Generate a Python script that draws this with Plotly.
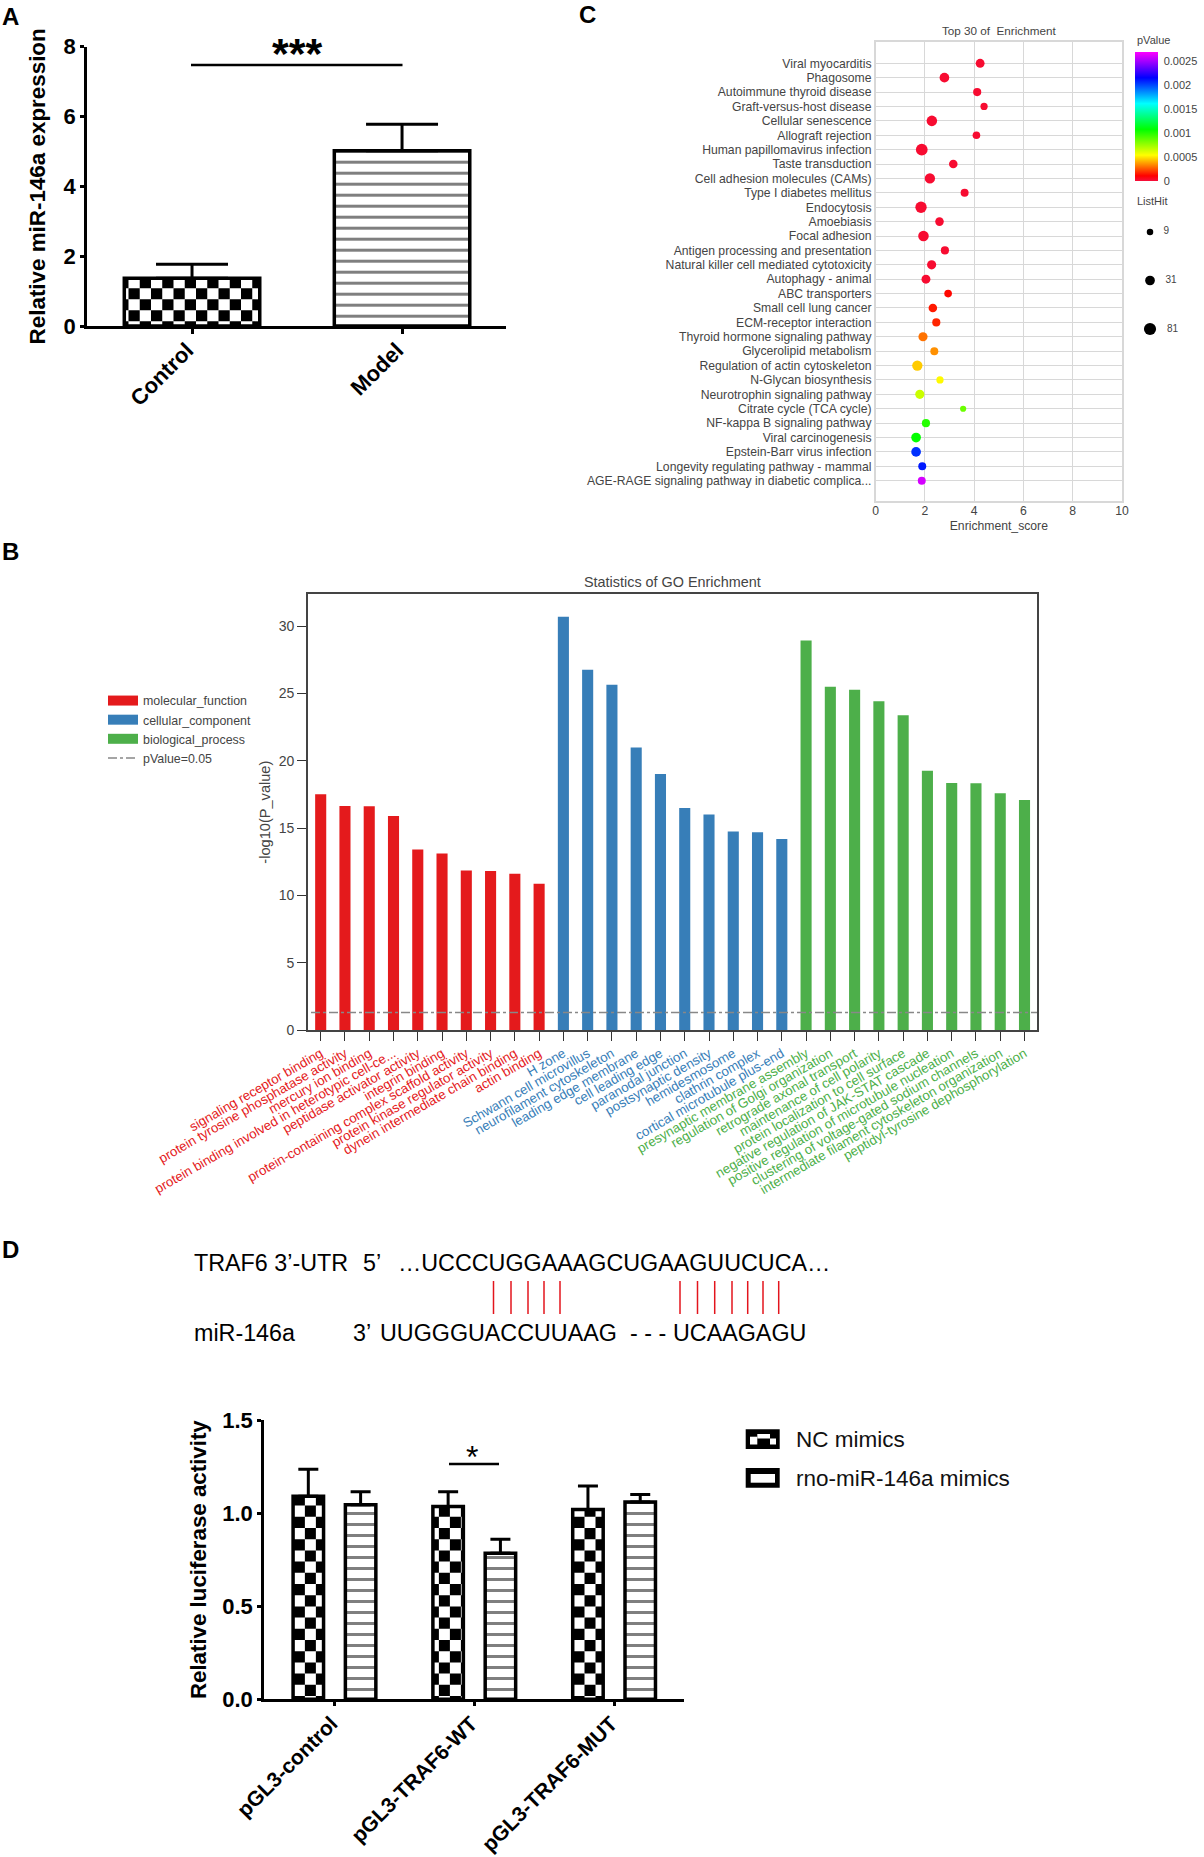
import numpy as np
import plotly.graph_objects as go

W, H = 1204, 1857
FONT = 'Liberation Sans'

# panel A
a_groups = ['Control', 'Model']
a_values = [1.37, 5.02]
a_err = [0.40, 0.76]

# panel B
b_mf_labels = ['signaling receptor binding', 'protein tyrosine phosphatase activity', 'mercury ion binding',
               'protein binding involved in heterotypic cell-ce...', 'peptidase activator activity', 'integrin binding',
               'protein-containing complex scaffold activity', 'protein kinase regulator activity',
               'dynein intermediate chain binding', 'actin binding']
b_mf_values = [17.51, 16.64, 16.62, 15.9, 13.4, 13.1, 11.84, 11.8, 11.6, 10.86]
b_cc_labels = ['H zone', 'Schwann cell microvillus', 'neurofilament cytoskeleton', 'leading edge membrane',
               'cell leading edge', 'paranodal junction', 'postsynaptic density', 'hemidesmosome',
               'clathrin complex', 'cortical microtubule plus-end']
b_cc_values = [30.69, 26.76, 25.64, 20.99, 19.02, 16.49, 16.0, 14.74, 14.69, 14.19]
b_bp_labels = ['presynaptic membrane assembly', 'regulation of Golgi organization', 'retrograde axonal transport',
               'maintenance of cell polarity', 'protein localization to cell surface',
               'negative regulation of JAK-STAT cascade', 'positive regulation of microtubule nucleation',
               'clustering of voltage-gated sodium channels', 'intermediate filament cytoskeleton organization',
               'peptidyl-tyrosine dephosphorylation']
b_bp_values = [28.93, 25.49, 25.27, 24.41, 23.37, 19.26, 18.35, 18.32, 17.58, 17.09]
b_threshold = 1.3

# panel C
c_terms = ['Viral myocarditis', 'Phagosome', 'Autoimmune thyroid disease', 'Graft-versus-host disease',
           'Cellular senescence', 'Allograft rejection', 'Human papillomavirus infection', 'Taste transduction',
           'Cell adhesion molecules (CAMs)', 'Type I diabetes mellitus', 'Endocytosis', 'Amoebiasis', 'Focal adhesion',
           'Antigen processing and presentation', 'Natural killer cell mediated cytotoxicity', 'Autophagy - animal',
           'ABC transporters', 'Small cell lung cancer', 'ECM-receptor interaction', 'Thyroid hormone signaling pathway',
           'Glycerolipid metabolism', 'Regulation of actin cytoskeleton', 'N-Glycan biosynthesis',
           'Neurotrophin signaling pathway', 'Citrate cycle (TCA cycle)', 'NF-kappa B signaling pathway',
           'Viral carcinogenesis', 'Epstein-Barr virus infection', 'Longevity regulating pathway - mammal',
           'AGE-RAGE signaling pathway in diabetic complica...']
c_score = [4.24, 2.79, 4.12, 4.40, 2.28, 4.09, 1.87, 3.15, 2.20, 3.61, 1.84, 2.59, 1.94, 2.81, 2.27,
           2.04, 2.94, 2.32, 2.46, 1.92, 2.38, 1.69, 2.61, 1.79, 3.55, 2.04, 1.64, 1.64, 1.89, 1.87]
c_listhit = [23, 31, 17, 12, 43, 14, 69, 20, 40, 16, 59, 20, 43, 17, 25,
             23, 14, 20, 17, 25, 16, 40, 12, 25, 8, 17, 31, 31, 16, 16]
c_pvalue = [0.00002] * 16 + [0.00012, 0.00015, 0.00017, 0.0003, 0.00035, 0.00045, 0.00053, 0.00065, 0.00085,
                             0.001, 0.00107, 0.00205, 0.0021, 0.0026]
c_p_ticks = [0, 0.0005, 0.001, 0.0015, 0.002, 0.0025]
c_p_labels = ['0', '0.0005', '0.001', '0.0015', '0.002', '0.0025']
c_hit_legend = [9, 31, 81]

# panel D
d_groups = ['pGL3-control', 'pGL3-TRAF6-WT', 'pGL3-TRAF6-MUT']
d_nc = [1.09, 1.035, 1.02]
d_nc_err = [0.145, 0.08, 0.125]
d_mimic = [1.045, 0.785, 1.06]
d_mimic_err = [0.07, 0.075, 0.04]
d_series = ['NC mimics', 'rno-miR-146a mimics']


def xdom(a, b):
    return [a / W, b / W]


def ydom(top, bottom):
    return [1 - bottom / H, 1 - top / H]


def hit_size(h):
    return 6.5 + 2.58 * np.log(np.array(h) / 9)


annotations = []
shapes = []


def txt(x, y, s, size, color='black', anchor='left', bold=False, rot=0):
    if bold:
        s = '<b>' + s + '</b>'
    annotations.append(dict(xref='paper', yref='paper', x=x / W, y=1 - y / H, text=s, showarrow=False,
                            xanchor=anchor, yanchor='middle', textangle=rot,
                            font=dict(family=FONT, size=size, color=color)))


def pline(x0, y0, x1, y1, color='black', width=2):
    shapes.append(dict(type='line', xref='paper', yref='paper', x0=x0 / W, x1=x1 / W, y0=1 - y0 / H, y1=1 - y1 / H,
                       line=dict(color=color, width=width)))


def prect(x0, y0, x1, y1, color):
    shapes.append(dict(type='rect', xref='paper', yref='paper', x0=x0 / W, x1=x1 / W, y0=1 - y0 / H, y1=1 - y1 / H,
                       fillcolor=color, line=dict(width=0)))


def checker(xref, yref, left, right, top, cw, ch, x_start, y_start, parity=0):
    # black squares of the checked fill, clipped to the bar
    nx = int((right - x_start) / cw) + 1
    ny = int((top - y_start) / ch) + 2
    for i in range(-1, nx):
        for j in range(-1, ny):
            if (i + j + parity) % 2:
                continue
            x0, x1 = max(left, x_start + i * cw), min(right, x_start + (i + 1) * cw)
            y0, y1 = max(0, y_start + j * ch), min(top, y_start + (j + 1) * ch)
            if x1 <= x0 or y1 <= y0:
                continue
            shapes.append(dict(type='rect', xref=xref, yref=yref, x0=x0, x1=x1, y0=y0, y1=y1,
                               fillcolor='black', line=dict(width=0), layer='below'))


STRIPES = dict(shape='-', size=11, solidity=0.2727, fgcolor='black', bgcolor='white')
fig = go.Figure()

# --- A ---
a_x = list(range(len(a_groups)))
a_width = 0.645
fig.add_trace(go.Bar(x=[a_x[0]], y=[a_values[0]], width=a_width, xaxis='x', yaxis='y', showlegend=False,
                     marker=dict(color='rgba(0,0,0,0)', line=dict(color='black', width=3.5)),
                     error_y=dict(type='data', symmetric=False, array=[a_err[0]], arrayminus=[0],
                                  color='black', thickness=3, width=36)))
fig.add_trace(go.Bar(x=[a_x[1]], y=[a_values[1]], width=a_width, xaxis='x', yaxis='y', showlegend=False,
                     marker=dict(color='white', pattern=STRIPES, line=dict(color='black', width=3.5)),
                     error_y=dict(type='data', symmetric=False, array=[a_err[1]], arrayminus=[0],
                                  color='black', thickness=3, width=36)))
checker('x', 'y', a_x[0] - a_width / 2, a_x[0] + a_width / 2, a_values[0], 11.25 / 210, 11 / 34.9,
        a_x[0] - a_width / 2 + 4.2 / 210, 4.7 / 34.9, parity=0)

# --- C ---
fig.add_trace(go.Scatter(x=c_score, y=c_terms, mode='markers', xaxis='x2', yaxis='y2', showlegend=False,
                         marker=dict(size=hit_size(c_listhit), color=c_pvalue, cmin=0, cmax=0.00269, showscale=True,
                                     opacity=1, line=dict(width=0),
                                     colorscale=[[0, 'rgb(245,15,60)'], [0.04, 'rgb(255,0,0)'], [0.2, 'rgb(255,255,0)'],
                                                 [0.4, 'rgb(0,255,0)'], [0.6, 'rgb(0,255,255)'], [0.8, 'rgb(0,0,255)'],
                                                 [1, 'rgb(255,0,255)']],
                                     colorbar=dict(x=1135 / W, xanchor='left', y=1 - 51.7 / H, yanchor='top',
                                                   lenmode='pixels', len=128.6, thicknessmode='pixels', thickness=23,
                                                   xpad=0, ypad=0, outlinewidth=0, ticks='outside', ticklen=4,
                                                   tickcolor='rgba(0,0,0,0)', tickvals=c_p_ticks, ticktext=c_p_labels,
                                                   tickfont=dict(family=FONT, size=11, color='#444444')))))
fig.add_trace(go.Scatter(x=[0] * len(c_hit_legend), y=[str(h) for h in c_hit_legend], mode='markers+text',
                         text=['   ' + str(h) for h in c_hit_legend], textposition='middle right',
                         textfont=dict(family=FONT, size=10, color='#444444'),
                         xaxis='x5', yaxis='y5', showlegend=False,
                         marker=dict(size=hit_size(c_hit_legend), color='black', opacity=1, line=dict(width=0))))

# --- B ---
b_labels = b_mf_labels + b_cc_labels + b_bp_labels
b_pos = list(range(len(b_labels)))
RED, BLUE, GREEN = '#e41a1c', '#377eb8', '#4daf4a'
b_names = ['molecular_function', 'cellular_component', 'biological_process']
start = 0
b_ticks = []
for name, vals, labs, col in zip(b_names, [b_mf_values, b_cc_values, b_bp_values],
                                 [b_mf_labels, b_cc_labels, b_bp_labels], [RED, BLUE, GREEN]):
    fig.add_trace(go.Bar(x=b_pos[start:start + len(vals)], y=vals, width=0.457, showlegend=False, xaxis='x3', yaxis='y3',
                         marker=dict(color=col, line=dict(width=0))))
    # legend-only line, the bar swatch of the legend is too small
    fig.add_trace(go.Scatter(x=[None], y=[None], mode='lines', name=name, xaxis='x3', yaxis='y3',
                             line=dict(color=col, width=10)))
    b_ticks += [f'<span style="color:{col}">{l}</span>' for l in labs]
    start += len(vals)
fig.add_trace(go.Scatter(x=[-0.4, b_pos[-1] + 0.515], y=[b_threshold, b_threshold], mode='lines', name='pValue=0.05',
                         xaxis='x3', yaxis='y3', line=dict(color='#888888', width=1.5, dash='dashdot')))

# --- D ---
d_x = list(range(len(d_groups)))
d_width = 0.218
d_off = 0.187
fig.add_trace(go.Bar(x=d_x, y=d_nc, width=d_width, offset=-d_off - d_width / 2, xaxis='x4', yaxis='y4', showlegend=False,
                     marker=dict(color='rgba(0,0,0,0)', line=dict(color='black', width=3.5)),
                     error_y=dict(type='data', symmetric=False, array=d_nc_err, arrayminus=[0] * 3,
                                  color='black', thickness=3, width=10)))
fig.add_trace(go.Bar(x=d_x, y=d_mimic, width=d_width, offset=d_off - d_width / 2, xaxis='x4', yaxis='y4', showlegend=False,
                     marker=dict(color='white', pattern=STRIPES, line=dict(color='black', width=3.5)),
                     error_y=dict(type='data', symmetric=False, array=d_mimic_err, arrayminus=[0] * 3,
                                  color='black', thickness=3, width=10)))
for gx, val, shift in zip(d_x, d_nc, [0.8, -5, 0.8]):
    left = gx - d_off - d_width / 2
    checker('x4', 'y4', left, left + d_width, val, 11 / 139.8, 11.2 / 186.2, left + shift / 139.8, 3.3 / 186.2, parity=1)

# significance marks
pline(191, 65, 402.5, 65, width=2.5)
txt(297, 53, '***', 43, anchor='center', bold=True)
pline(449, 1464, 499, 1464, width=2.5)
txt(472, 1457, '*', 32, anchor='center')

# sequence schematic
for px_ in [493.5, 511, 528, 544, 560, 680, 697.5, 714.7, 732, 747.7, 763, 778.7]:
    pline(px_, 1281, px_, 1314, color='#e3141c', width=1.5)
SEQ = 23.3
txt(191.5, 1263, 'TRAF6 3’-UTR', SEQ)
txt(360.5, 1263, '5’', SEQ)
txt(396, 1263, '…UCCCUGGAAAGCUGAAGUUCUCA…', SEQ)
txt(191.5, 1333, 'miR-146a', SEQ)
txt(350.5, 1333, '3’', SEQ)
txt(378, 1333, 'UUGGGUACCUUAAG', SEQ)
txt(628, 1333, '- - -', SEQ)
txt(670.7, 1333, 'UCAAGAGU', SEQ)

# D legend
prect(745.7, 1429.3, 779.7, 1449, 'black')
prect(750, 1436.7, 757.3, 1444.5, 'white')
prect(757.3, 1434, 770, 1438.5, 'white')
prect(770, 1438.5, 776, 1444.5, 'white')
prect(745.7, 1468, 779.7, 1487.7, 'black')
prect(750.7, 1474, 775, 1482.7, 'white')
txt(794, 1439, d_series[0], 22.5, color='#111111')
txt(794, 1478, d_series[1], 22.5, color='#111111')

# panel letters and text of C
txt(0, 17, 'A', 24, bold=True)
txt(577, 15, 'C', 24, bold=True)
txt(0, 551, 'B', 24, bold=True)
txt(0, 1249, 'D', 24, bold=True)
txt(998.6, 31, 'Top 30 of  Enrichment', 11.7, color='#444444', anchor='center')
txt(1135, 40, 'pValue', 11, color='#444444')
txt(1135, 201, 'ListHit', 11, color='#444444')
txt(672, 581.7, 'Statistics of GO Enrichment', 14.4, color='#444444', anchor='center')

bold_tick = dict(family=FONT, size=22, color='black')
d_tick = dict(family=FONT, size=22, color='black')
gray_tick = dict(family=FONT, size=12.2, color='#444444')
fig.update_layout(
    width=W, height=H, autosize=False, margin=dict(l=0, r=0, t=0, b=0, autoexpand=False), plot_bgcolor='white',
    paper_bgcolor='white', barmode='overlay', font=dict(family=FONT), annotations=annotations, shapes=shapes,
    xaxis=dict(domain=xdom(86.8, 506), range=[-0.501, 1.495], tickvals=a_x, ticktext=[f'<b>{g}</b>' for g in a_groups],
               tickangle=-45, tickfont=bold_tick, ticks='outside', ticklen=5, tickwidth=2.5, tickcolor='black',
               ticklabelstandoff=-5, ticklabelshift=-5,
               showline=True, linecolor='black', linewidth=2.5, showgrid=False, zeroline=False),
    yaxis=dict(domain=ydom(46.7, 326), range=[0, 8], tickvals=[0, 2, 4, 6, 8], ticktext=[f'<b>{v}</b>' for v in [0, 2, 4, 6, 8]],
               tickfont=bold_tick, ticks='outside', ticklen=4, tickwidth=2.5, tickcolor='black', showline=True,
               linecolor='black', linewidth=2.5, showgrid=False, zeroline=False,
               title=dict(text='<b>Relative miR-146a expression</b>', font=dict(family=FONT, size=22.4, color='black'), standoff=12)),
    xaxis2=dict(domain=xdom(875.7, 1122), anchor='y2', range=[0, 10], dtick=2, tickfont=gray_tick, ticks='', showline=True,
                mirror=True, linecolor='#d8d8d8', linewidth=1.5, showgrid=True, gridcolor='#d8d8d8', gridwidth=1.2,
                ticklabelstandoff=-3, zeroline=False, title=dict(text='Enrichment_score', font=gray_tick, standoff=5)),
    yaxis2=dict(domain=ydom(41.7, 501.3), anchor='x2', type='category', categoryorder='array', categoryarray=c_terms,
                range=[29 + 1.43, -1.5], tickmode='array', tickvals=c_terms, tickfont=gray_tick, ticks='', showline=True,
                mirror=True, linecolor='#d8d8d8', linewidth=1.5, showgrid=True, gridcolor='#d8d8d8', gridwidth=1.2,
                zeroline=False),
    xaxis3=dict(domain=xdom(308, 1037), anchor='y3', range=[-0.523, 29.515], tickvals=b_pos, ticktext=b_ticks, tickangle=-30,
                tickfont=dict(family=FONT, size=13.3), ticks='outside', ticklen=9, tickwidth=1.2, tickcolor='#333333',
                showline=True, mirror=True, linecolor='#444444', linewidth=1.6, showgrid=False, zeroline=False),
    yaxis3=dict(domain=ydom(594.3, 1030), anchor='x3', range=[0, 32.36], dtick=5, tickfont=dict(family=FONT, size=14, color='#444444'),
                ticks='outside', ticklen=9, tickwidth=1.2, tickcolor='#333333', showline=True, mirror=True,
                linecolor='#444444', linewidth=1.6, showgrid=False, zeroline=False,
                title=dict(text='-log10(P_value)', font=dict(family=FONT, size=14.6, color='#444444'), standoff=5)),
    xaxis4=dict(domain=xdom(264, 684), anchor='y4', range=[-0.504, 2.5], tickvals=d_x, ticktext=[f'<b>{g}</b>' for g in d_groups],
                tickangle=-45, tickfont=dict(family=FONT, size=21, color='black'), ticks='outside', ticklen=4,
                ticklabelstandoff=-3, ticklabelshift=-3,
                tickwidth=2.5, tickcolor='black', showline=True, linecolor='black', linewidth=2.5, showgrid=False,
                zeroline=False),
    yaxis4=dict(domain=ydom(1420, 1699.3), anchor='x4', range=[0, 1.5], tickvals=[0, 0.5, 1, 1.5],
                ticktext=['<b>0.0</b>', '<b>0.5</b>', '<b>1.0</b>', '<b>1.5</b>'], tickfont=d_tick,
                ticks='outside', ticklen=4, tickwidth=2.5, tickcolor='black', showline=True, linecolor='black',
                linewidth=2.5, showgrid=False, zeroline=False,
                title=dict(text='<b>Relative luciferase activity</b>', font=dict(family=FONT, size=22.3, color='black'), standoff=10)),
    xaxis5=dict(domain=xdom(1130, 1200), anchor='y5', range=[-0.286, 0.714], visible=False),
    yaxis5=dict(domain=ydom(207.7, 353.3), anchor='x5', type='category', categoryorder='array',
                categoryarray=[str(h) for h in c_hit_legend], range=[2.5, -0.5], visible=False),
    legend=dict(x=103 / W, y=1 - 686 / H, xanchor='left', yanchor='top',
                bgcolor='rgba(0,0,0,0)', font=dict(family=FONT, size=12.4, color='#444444'), itemwidth=30),
)

fig.write_html('out.html', config=dict(displayModeBar=False), post_script="document.body.style.margin='0';")
